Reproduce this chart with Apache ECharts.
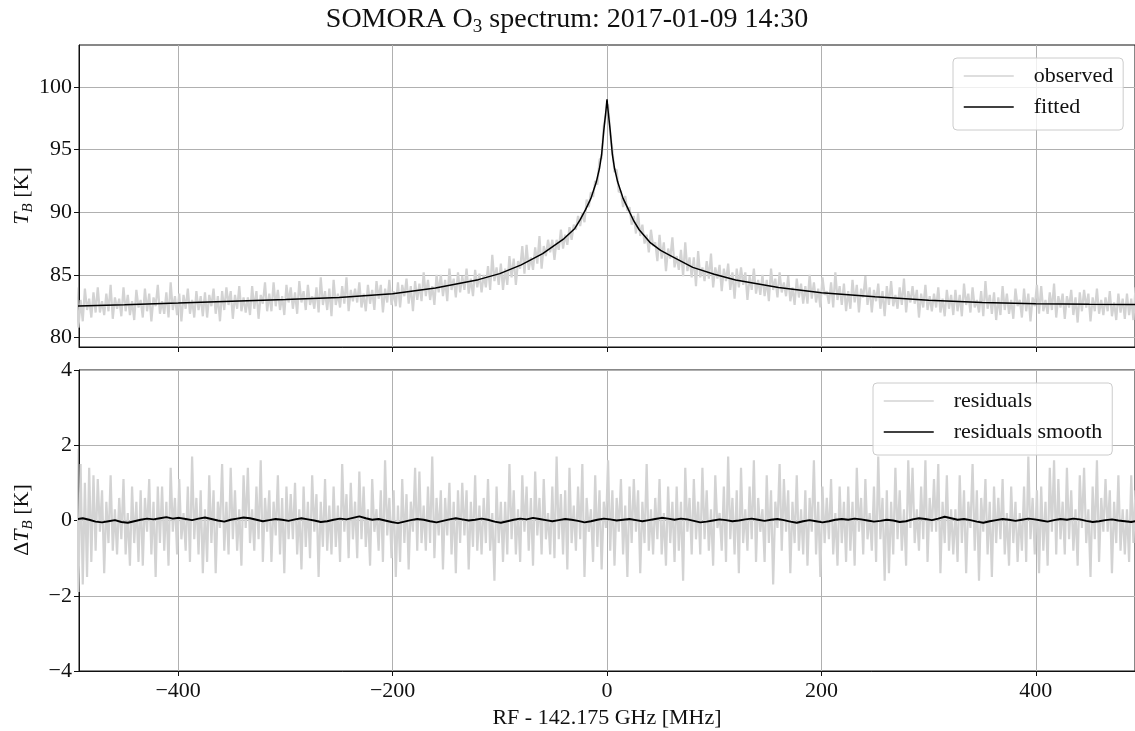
<!DOCTYPE html>
<html>
<head>
<meta charset="utf-8">
<script src="https://cdn.jsdelivr.net/npm/echarts@6/dist/echarts.min.js"></script>
<style>
  html, body { margin: 0; padding: 0; background: #fff; }
  #chart { width: 1135px; height: 731px; }
</style>
</head>
<body>
<div id="chart"></div>
<script>
// sample grid of the spectrum (MHz from line centre)
const freqStart = -495;
const freqStep = 2;

// observed brightness temperature [K]
const observed = [
  84.0, 80.8, 83.0, 81.3, 83.9, 82.2, 83.1, 81.6, 83.6, 82.0,
  84.0, 82.0, 82.9, 81.8, 83.5, 82.1, 84.2, 81.5, 83.2, 82.3,
  83.1, 81.7, 84.0, 82.1, 83.4, 81.8, 82.9, 81.4, 83.8, 82.4,
  83.0, 81.6, 83.9, 82.1, 83.5, 81.3, 83.2, 82.5, 84.2, 81.9,
  82.9, 81.9, 83.6, 81.6, 84.4, 82.2, 83.3, 81.8, 83.5, 81.3,
  83.4, 82.3, 83.9, 81.9, 83.0, 81.6, 83.7, 82.2, 83.3, 81.7,
  83.6, 81.6, 83.4, 82.5, 83.9, 81.9, 83.3, 81.3, 83.7, 82.2,
  84.0, 82.6, 83.7, 81.5, 83.4, 82.3, 84.1, 82.1, 83.2, 82.0,
  83.2, 81.8, 84.1, 82.3, 83.7, 81.5, 83.4, 82.7, 84.4, 82.1,
  83.5, 82.1, 84.4, 82.5, 83.8, 82.2, 83.3, 81.8, 84.2, 82.8,
  84.0, 82.3, 83.6, 81.9, 84.5, 82.8, 83.7, 82.2, 84.2, 82.6,
  83.3, 82.3, 84.0, 82.0, 84.8, 82.6, 83.7, 82.2, 83.9, 81.7,
  84.6, 82.6, 83.5, 82.4, 84.1, 82.7, 84.8, 82.1, 83.8, 82.9,
  83.9, 82.8, 84.4, 82.4, 83.5, 82.1, 84.2, 82.7, 83.8, 82.2,
  84.5, 83.1, 84.2, 82.0, 83.9, 82.8, 84.6, 82.6, 83.7, 82.5,
  84.4, 82.4, 84.2, 83.3, 84.7, 82.7, 84.1, 82.1, 84.5, 83.0,
  84.3, 82.9, 85.2, 83.3, 84.6, 83.0, 84.1, 82.6, 85.0, 83.6,
  85.0, 83.3, 84.6, 82.9, 85.5, 83.8, 84.7, 83.2, 85.2, 83.6,
  84.9, 83.8, 85.5, 83.5, 84.7, 83.3, 85.4, 84.0, 85.1, 83.6,
  85.0, 84.0, 85.7, 83.8, 86.6, 84.5, 85.6, 84.2, 85.9, 83.8,
  85.5, 84.2, 86.5, 84.8, 86.3, 84.2, 86.1, 85.5, 87.3, 85.1,
  87.4, 85.4, 86.4, 85.4, 87.2, 85.9, 88.1, 85.5, 87.3, 86.5,
  87.8, 86.8, 87.8, 86.2, 87.8, 87.0, 88.6, 87.1, 88.2, 87.4,
  88.8, 87.8, 89.0, 88.6, 89.7, 88.9, 90.0, 89.2, 91.0, 90.4,
  91.6, 91.2, 92.5, 92.2, 94.2, 94.3, 96.9, 97.7, 98.6, 96.2,
  95.0, 93.2, 93.4, 91.6, 91.7, 90.4, 91.3, 90.1, 90.4, 89.0,
  89.7, 88.3, 89.9, 88.1, 89.0, 87.5, 88.2, 86.8, 88.6, 87.3,
  87.6, 86.1, 88.2, 86.3, 87.6, 85.3, 87.1, 86.3, 88.0, 85.6,
  86.5, 85.4, 87.0, 84.9, 87.6, 85.3, 86.4, 84.8, 86.4, 84.1,
  86.9, 84.8, 85.6, 84.5, 86.1, 84.7, 86.7, 84.0, 85.6, 84.7,
  85.8, 83.7, 85.5, 84.5, 85.9, 83.8, 85.2, 83.1, 85.5, 84.0,
  85.6, 84.2, 85.2, 83.0, 84.9, 83.8, 85.5, 83.5, 84.6, 83.4,
  85.0, 83.3, 84.6, 82.9, 85.5, 83.8, 84.7, 83.2, 85.2, 83.6,
  84.4, 83.3, 84.9, 82.9, 84.0, 82.6, 84.7, 83.2, 84.3, 82.7,
  84.1, 82.7, 85.0, 83.1, 84.4, 82.8, 83.9, 82.4, 84.8, 83.4,
  83.7, 82.7, 84.4, 82.4, 85.2, 83.0, 84.1, 82.6, 84.3, 82.1,
  83.7, 82.3, 84.6, 82.8, 84.2, 82.0, 83.9, 83.2, 84.9, 82.6,
  84.0, 82.0, 83.8, 82.9, 84.3, 82.3, 83.7, 81.7, 84.1, 82.6,
  84.5, 82.5, 83.4, 82.3, 84.0, 82.6, 84.7, 82.0, 83.7, 82.8,
  84.1, 82.7, 83.8, 81.6, 83.5, 82.4, 84.2, 82.2, 83.3, 82.1,
  83.5, 82.4, 84.0, 82.0, 83.1, 81.7, 83.8, 82.3, 83.4, 81.8,
  83.8, 82.1, 83.4, 81.7, 84.3, 82.6, 83.5, 82.0, 84.0, 82.4,
  83.0, 82.0, 83.7, 81.7, 84.5, 82.3, 83.4, 81.9, 83.6, 81.4,
  83.2, 81.8, 84.1, 82.2, 83.5, 81.9, 83.0, 81.5, 83.9, 82.5,
  83.0, 81.6, 83.9, 82.1, 83.5, 81.3, 83.2, 82.5, 84.2, 81.9,
  84.1, 82.1, 83.0, 81.9, 83.6, 82.2, 84.3, 81.6, 83.3, 82.4,
  83.5, 81.5, 83.3, 82.4, 83.8, 81.8, 83.2, 81.2, 83.6, 82.1,
  83.8, 82.4, 83.5, 81.3, 83.2, 82.1, 83.9, 81.9, 83.0, 81.8,
  83.2, 82.1, 83.7, 81.7, 82.8, 81.4, 83.5, 82.0, 83.1, 81.5,
  83.5, 81.8, 83.1, 81.4, 84.0, 82.3
];

// residuals observed - fitted [K], same grid
const residuals = [
  1.9, -1.9, 1.5, -1.7, 1.0, -1.5, 1.4, -1.1, 1.2, -0.8,
  1.1, -0.3, 0.8, -1.4, 0.5, -0.6, 1.2, -0.8, 0.3, -0.9,
  0.6, -0.5, 1.1, -0.9, 0.2, -1.2, 0.9, -0.6, 0.5, -1.1,
  0.8, -1.2, 0.6, -0.3, 1.1, -0.9, 0.5, -1.5, 0.9, -0.6,
  0.9, -0.8, 0.5, -1.2, 1.4, -0.3, 0.6, -0.9, 1.1, -0.5,
  0.2, -0.8, 0.9, -1.1, 1.7, -0.5, 0.6, -0.9, 0.8, -1.4,
  0.3, -1.1, 1.2, -0.6, 0.8, -1.4, 0.5, -0.2, 1.5, -0.8,
  0.5, -0.9, 1.4, -0.5, 0.8, -0.8, 0.3, -1.2, 1.2, -0.2,
  1.4, -0.6, 0.3, -0.8, 0.9, -0.5, 1.6, -1.1, 0.6, -0.3,
  0.8, -1.1, 0.5, -0.4, 1.2, -0.9, 0.6, -1.4, 0.9, -0.5,
  0.7, -0.5, 1.0, -0.9, 0.3, -1.3, 0.9, -0.7, 0.5, -1.0,
  1.2, -0.3, 0.7, -1.5, 0.5, -0.7, 1.1, -0.8, 0.4, -0.9,
  0.9, -0.7, 0.4, -1.1, 1.5, -0.3, 0.7, -1.0, 1.0, -0.5,
  0.5, -1.0, 1.3, -0.5, 0.9, -0.7, 0.3, -1.2, 1.1, -0.3,
  0.3, -0.8, 0.8, -1.1, 1.6, -0.4, 0.6, -1.0, 0.8, -1.5,
  0.4, -1.1, 1.1, -0.6, 0.7, -1.3, 0.5, -0.3, 1.4, -0.8,
  1.3, -0.6, 0.4, -0.8, 0.9, -0.6, 1.7, -1.0, 0.6, -0.4,
  0.8, -1.3, 0.6, -0.4, 1.0, -0.9, 0.5, -1.4, 0.8, -0.6,
  1.0, -0.4, 0.8, -1.3, 0.5, -0.7, 1.2, -0.8, 0.4, -0.9,
  0.6, -0.6, 1.1, -0.8, 0.2, -1.6, 0.9, -0.6, 0.5, -1.1,
  0.5, -0.9, 1.5, -0.5, 0.8, -0.9, 0.3, -1.1, 1.2, -0.3,
  0.9, -0.8, 0.6, -1.2, 1.3, -0.4, 0.6, -0.9, 1.1, -0.5,
  0.2, -0.9, 0.9, -1.0, 1.7, -0.5, 0.7, -0.9, 0.8, -1.3,
  1.4, -0.6, 0.4, -0.8, 0.9, -0.5, 1.5, -1.5, 0.6, -0.3,
  0.3, -1.1, 1.2, -0.7, 0.8, -1.3, 0.5, -0.2, 1.6, -0.8,
  0.8, -1.2, 0.6, -0.3, 1.1, -0.9, 0.4, -1.5, 0.9, -0.6,
  1.1, -0.3, 0.8, -1.4, 0.5, -0.6, 1.5, -0.8, 0.3, -0.9,
  0.6, -0.5, 1.1, -0.9, 0.2, -1.2, 0.9, -0.6, 0.5, -1.1,
  0.9, -0.8, 0.5, -1.6, 1.4, -0.3, 0.6, -0.9, 1.1, -0.5,
  0.5, -0.9, 1.4, -0.5, 0.8, -0.8, 0.3, -1.2, 1.2, -0.2,
  0.2, -0.8, 0.9, -1.1, 1.7, -0.5, 0.6, -0.9, 0.8, -1.4,
  1.4, -0.6, 0.3, -0.8, 0.9, -0.5, 1.6, -1.1, 0.6, -0.3,
  0.3, -1.1, 1.2, -0.6, 0.8, -1.7, 0.5, -0.2, 1.5, -0.8,
  1.1, -0.3, 0.8, -1.4, 0.5, -0.6, 1.2, -0.8, 0.3, -0.9,
  0.8, -1.2, 0.6, -0.3, 1.6, -0.9, 0.5, -1.5, 0.9, -0.6,
  0.6, -0.5, 1.1, -0.9, 0.2, -1.2, 0.9, -0.6, 0.5, -1.1,
  0.9, -0.8, 0.5, -1.2, 1.4, -0.3, 0.6, -0.9, 1.1, -0.5,
  0.2, -0.8, 0.9, -1.1, 1.7, -0.5, 0.6, -1.6, 0.8, -1.4,
  0.5, -0.9, 1.4, -0.5, 0.8, -0.8, 0.3, -1.2, 1.6, -0.2,
  1.4, -0.6, 0.3, -0.8, 0.9, -0.5, 1.6, -1.1, 0.6, -0.3,
  1.1, -0.3, 1.5, -1.4, 0.5, -0.6, 1.2, -0.8, 0.3, -0.9,
  0.3, -1.1, 1.2, -0.6, 0.8, -1.4, 0.5, -0.2, 1.5, -0.8,
  0.8, -1.6, 0.6, -0.3, 1.1, -0.9, 0.5, -1.5, 0.9, -0.6,
  0.6, -0.5, 1.1, -0.9, 0.2, -1.2, 0.9, -0.6, 0.5, -1.1,
  0.2, -0.8, 0.9, -1.1, 1.7, -0.5, 0.6, -0.9, 0.8, -1.4,
  0.9, -0.8, 0.5, -1.2, 1.4, -0.3, 1.6, -0.9, 1.1, -0.5,
  0.5, -0.9, 1.4, -0.5, 0.8, -0.8, 0.3, -1.2, 1.2, -0.2,
  1.4, -0.6, 0.3, -1.5, 0.9, -0.5, 1.6, -1.1, 0.6, -0.3,
  1.1, -0.3, 0.8, -1.4, 0.5, -0.6, 1.2, -0.8, 0.3, -0.9,
  0.3, -1.1, 1.2, -0.6, 0.8, -1.4
];

// smoothed residuals [K], coarser grid
const smoothStart = -495;
const smoothStep = 6;
const residualsSmooth = [
  0.03, 0.06, 0.02, -0.03, -0.05, -0.02, 0.01, -0.04, -0.06, -0.02,
  0.02, 0.05, 0.03, 0.06, 0.09, 0.05, 0.07, 0.04, 0.01, 0.05,
  0.08, 0.04, 0.00, -0.03, 0.02, 0.05, 0.08, 0.06, 0.02, -0.02,
  0.01, 0.04, 0.02, -0.01, 0.03, 0.06, 0.03, 0.00, -0.04, -0.02,
  0.02, 0.05, 0.03, 0.07, 0.11, 0.06, 0.02, 0.04, 0.00, -0.04,
  -0.07, -0.03, 0.01, 0.04, 0.02, -0.02, -0.05, -0.01, 0.03, 0.06,
  0.03, 0.00, 0.02, 0.05, 0.02, -0.03, -0.06, -0.02, 0.02, 0.05,
  0.03, 0.07, 0.04, 0.01, -0.02, 0.01, 0.04, 0.02, -0.01, -0.05,
  -0.02, 0.02, 0.05, 0.03, 0.00, 0.02, 0.04, 0.01, -0.02, 0.01,
  0.04, 0.07, 0.05, 0.02, 0.05, 0.03, -0.01, -0.05, -0.03, 0.00,
  0.03, 0.01, -0.02, 0.00, 0.03, 0.05, 0.02, -0.01, 0.02, 0.04,
  0.01, -0.03, -0.06, -0.02, 0.01, -0.02, -0.05, -0.02, 0.02, 0.04,
  0.02, 0.05, 0.03, 0.00, -0.03, -0.01, 0.02, 0.00, -0.04, -0.02,
  0.03, 0.06, 0.04, 0.01, 0.05, 0.10, 0.06, 0.02, 0.04, 0.01,
  -0.03, -0.06, -0.02, 0.01, 0.04, 0.02, -0.01, 0.02, 0.05, 0.03,
  0.00, -0.03, 0.01, 0.04, 0.02, 0.05, 0.03, -0.01, -0.04, -0.02,
  0.01, 0.03, 0.00, -0.02, -0.04, -0.01
];

// fitted model spectrum [K]
const fitFreq = [-495, -450, -400, -350, -300, -250, -200, -160, -120, -100, -80, -60, -50, -40, -30,
  -25, -20, -15, -10, -7, -5, -3, -2, -1, 0, 1, 2, 3, 5, 7, 10, 15, 20, 25, 30,
  40, 50, 60, 80, 100, 120, 160, 200, 250, 300, 350, 400, 450, 495];
const fitted = [82.52, 82.62, 82.75, 82.9, 83.03, 83.2, 83.5, 83.95, 84.62, 85.1, 85.8, 86.7, 87.3, 87.9, 88.7,
  89.4, 90.2, 91.1, 92.4, 93.5, 94.6, 96.5, 97.3, 98.1, 99.0, 98.1, 97.3, 96.5, 94.6, 93.5, 92.4, 91.1, 90.2, 89.3, 88.6,
  87.6, 86.95, 86.5, 85.6, 85.05, 84.6, 84.0, 83.58, 83.25, 82.98, 82.8, 82.7, 82.65, 82.63];

const freqTicks = [-400, -200, 0, 200, 400];
const tbTicks = [80, 85, 90, 95, 100];

const serif = "'Liberation Serif', 'DejaVu Serif', serif";
const ink = '#111';
const fmt = v => (v < 0 ? '\u2212' + Math.abs(v) : String(v));

const chart = echarts.init(document.getElementById('chart'));

const xBase = (gi, showLabels) => ({
  type: 'value',
  gridIndex: gi,
  min: -492.5,
  max: 492.5,
  axisLine: { show: true, onZero: false, lineStyle: { color: ink, width: 1 } },
  axisTick: { show: true, inside: false, length: 5, customValues: freqTicks, lineStyle: { color: ink, width: 1 } },
  axisLabel: {
    show: showLabels, customValues: freqTicks, formatter: fmt, margin: 9,
    fontFamily: serif, fontSize: 22, color: ink
  },
  splitLine: { show: true, lineStyle: { color: '#b0b0b0', width: 1 } }
});

const legendBox = {
  orient: 'vertical',
  itemWidth: 50, itemHeight: 24, itemGap: 9,
  padding: [7, 10, 12, 10],
  selectedMode: false,
  backgroundColor: 'rgba(255,255,255,0.8)',
  borderColor: '#cccccc', borderWidth: 1, borderRadius: 4,
  itemStyle: { opacity: 0 },
  lineStyle: { width: 1.5 },
  textStyle: { fontFamily: serif, fontSize: 22, color: ink, padding: [0, 0, 0, 15] }
};

chart.setOption({
  animation: false,
  backgroundColor: '#fff',
  grid: [
    { left: 79, top: 45, width: 1056, height: 302, show: true, borderColor: ink, borderWidth: 1, backgroundColor: 'transparent' },
    { left: 79, top: 370, width: 1056, height: 301, show: true, borderColor: ink, borderWidth: 1, backgroundColor: 'transparent' }
  ],
  xAxis: [
    xBase(0, false),
    Object.assign(xBase(1, true), {
      name: 'RF - 142.175 GHz [MHz]',
      nameLocation: 'middle',
      nameGap: 36,
      nameTextStyle: { fontFamily: serif, fontSize: 22, color: ink }
    })
  ],
  yAxis: [
    {
      type: 'value', gridIndex: 0, min: 79.25, max: 103.33,
      axisLine: { show: true, onZero: false, lineStyle: { color: ink, width: 1 } },
      axisTick: { show: true, inside: false, length: 5, customValues: tbTicks, lineStyle: { color: ink, width: 1 } },
      axisLabel: { customValues: tbTicks, formatter: fmt, margin: 7, fontFamily: serif, fontSize: 22, color: ink },
      splitLine: { show: true, lineStyle: { color: '#b0b0b0', width: 1 } }
    },
    {
      type: 'value', gridIndex: 1, min: -4, max: 4, interval: 2,
      axisLine: { show: true, onZero: false, lineStyle: { color: ink, width: 1 } },
      axisTick: { show: true, inside: false, length: 5, lineStyle: { color: ink, width: 1 } },
      axisLabel: { formatter: fmt, margin: 7, fontFamily: serif, fontSize: 22, color: ink },
      splitLine: { show: true, lineStyle: { color: '#b0b0b0', width: 1 } }
    }
  ],
  legend: [
    Object.assign({ data: ['observed', 'fitted'], left: 953, top: 58 }, legendBox),
    Object.assign({ data: ['residuals', 'residuals smooth'], left: 873, top: 383 }, legendBox)
  ],
  series: [
    {
      name: 'observed', type: 'line', xAxisIndex: 0, yAxisIndex: 0,
      data: observed.map((v, i) => [freqStart + i * freqStep, v]),
      symbol: 'none', lineStyle: { color: '#d3d3d3', width: 2.2 }, itemStyle: { color: '#d3d3d3' }, z: 2
    },
    {
      name: 'fitted', type: 'line', xAxisIndex: 0, yAxisIndex: 0,
      data: fitFreq.map((f, i) => [f, fitted[i]]),
      symbol: 'none', lineStyle: { color: '#000', width: 1.5 }, itemStyle: { color: '#000' }, z: 3
    },
    {
      name: 'residuals', type: 'line', xAxisIndex: 1, yAxisIndex: 1,
      data: residuals.map((v, i) => [freqStart + i * freqStep, v]),
      symbol: 'none', lineStyle: { color: '#d3d3d3', width: 2.2 }, itemStyle: { color: '#d3d3d3' }, z: 2
    },
    {
      name: 'residuals smooth', type: 'line', xAxisIndex: 1, yAxisIndex: 1,
      data: residualsSmooth.map((v, i) => [smoothStart + i * smoothStep, v]),
      symbol: 'none', lineStyle: { color: '#000', width: 2 }, itemStyle: { color: '#000' }, z: 3
    }
  ],
  graphic: [
    {
      type: 'text', x: 567, y: 20,
      style: {
        text: 'SOMORA O{sub|3} spectrum: 2017-01-09 14:30',
        font: '28px ' + serif, fill: ink, align: 'center', verticalAlign: 'middle', lineHeight: 34,
        rich: { sub: { fontSize: 19, fontFamily: serif, fill: ink, verticalAlign: 'bottom', lineHeight: 34 } }
      }
    },
    {
      type: 'text', x: 22, y: 196, rotation: Math.PI / 2,
      style: {
        text: '{it|T}{sub|B} [K]',
        font: '22px ' + serif, fill: ink, align: 'center', verticalAlign: 'middle', lineHeight: 28,
        rich: {
          it: { fontSize: 22, fontFamily: serif, fontStyle: 'italic', fill: ink, lineHeight: 28 },
          sub: { fontSize: 15, fontFamily: serif, fontStyle: 'italic', fill: ink, verticalAlign: 'bottom', lineHeight: 28 }
        }
      }
    },
    {
      type: 'text', x: 22, y: 520, rotation: Math.PI / 2,
      style: {
        text: '\u0394{it|T}{sub|B} [K]',
        font: '22px ' + serif, fill: ink, align: 'center', verticalAlign: 'middle', lineHeight: 28,
        rich: {
          it: { fontSize: 22, fontFamily: serif, fontStyle: 'italic', fill: ink, lineHeight: 28 },
          sub: { fontSize: 15, fontFamily: serif, fontStyle: 'italic', fill: ink, verticalAlign: 'bottom', lineHeight: 28 }
        }
      }
    }
  ]
});
</script>
</body>
</html>
